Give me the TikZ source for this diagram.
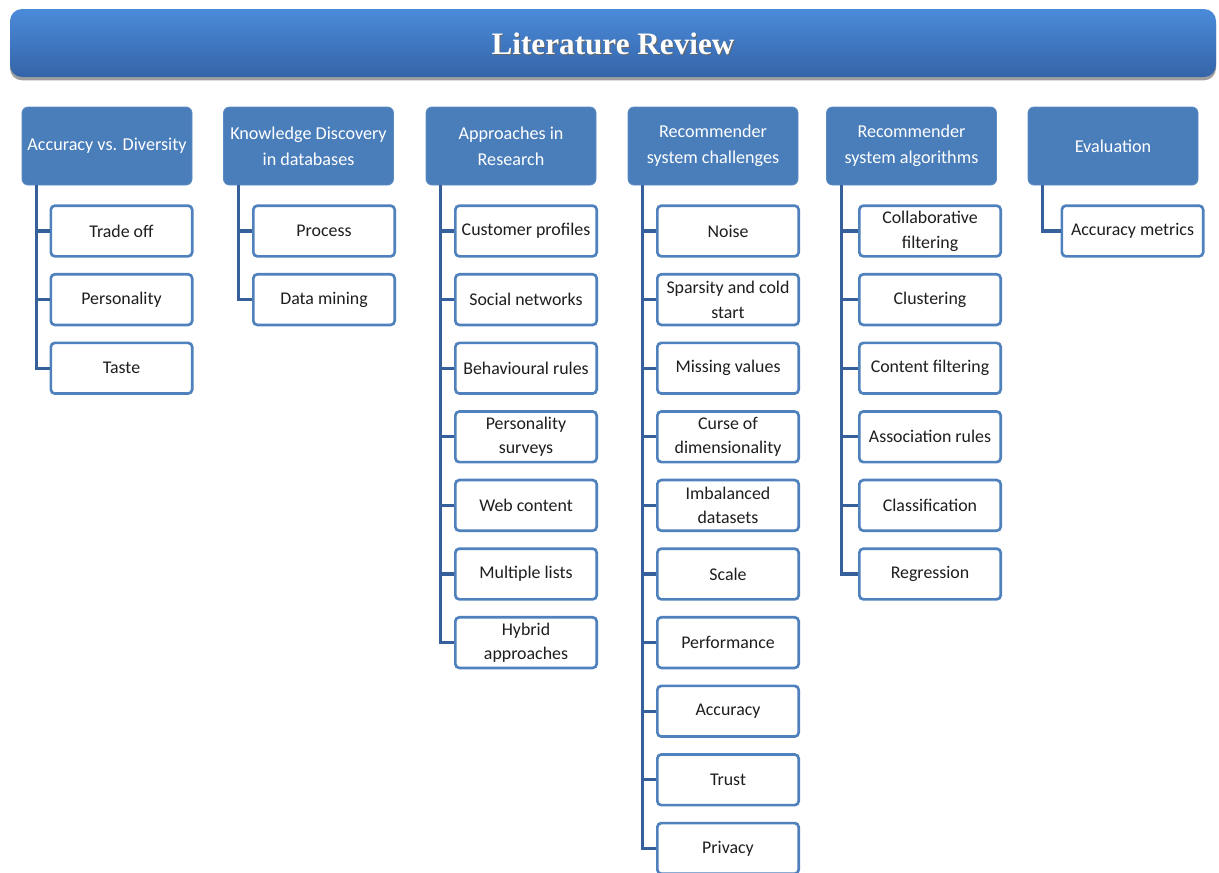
\documentclass[tikz,border=0pt]{standalone}
\usepackage{fontspec}
\setmainfont{Carlito}
\newfontfamily\titlefont{Liberation Serif}
\usetikzlibrary{calc,shadows}
\definecolor{barTop}{HTML}{4B8BDA}
\definecolor{barBot}{HTML}{3464A8}
\definecolor{headFill}{HTML}{4A7EBB}
\definecolor{leafLine}{HTML}{4F81BD}
\definecolor{linkLine}{HTML}{35609C}
\definecolor{leafText}{HTML}{1E1E1E}
\tikzset{
  head/.style={rectangle, rounded corners=4.5pt, fill=headFill, draw=headFill!90!white,
    line width=0.6pt, minimum width=127.5pt, minimum height=58.5pt, inner sep=2pt,
    align=center, text=white, font=\fontsize{13.6}{19.5}\selectfont},
  leaf/.style={rectangle, rounded corners=3pt, fill=white, draw=leafLine,
    line width=2pt, minimum width=106pt, minimum height=38pt, inner sep=1pt,
    align=center, text=leafText, font=\fontsize{13.4}{18.5}\selectfont},
  link/.style={draw=linkLine, line width=2.3pt},
}
\begin{document}
\begin{tikzpicture}[x=0.75pt,y=-0.75pt]
\useasboundingbox (0,0) rectangle (1219,872);
\clip (0,0) rectangle (1219,872);

% title banner
\shade[top color=barTop, bottom color=barBot, rounded corners=9pt,
  drop shadow={shadow xshift=0pt, shadow yshift=-2.5pt, opacity=0.5, fill=black!75}]
  (10,9) rectangle (1216,77);
\node (title) at (614,45) {\titlefont\fontsize{23.4}{26}\selectfont\bfseries\color{black!60}Literature Review};
\node (titletext) at (613,44) {\titlefont\fontsize{23.4}{26}\selectfont\bfseries\color{white}Literature Review};

% column headers
\node[head] (h1) at (107,146)  {Accuracy vs. Diversity};
\node[head] (h2) at (308.5,146) {Knowledge Discovery\\in databases};
\node[head] (h3) at (511,146)  {Approaches in\\Research};
\node[head] (h4) at (713,146)  {Recommender\\system challenges};
\node[head] (h5) at (911.5,146) {Recommender\\system algorithms};
\node[head] (h6) at (1113,146) {Evaluation};

% Accuracy vs. Diversity
\node[leaf] (a1) at (121.5,231)   {Trade off};
\node[leaf] (a2) at (121.5,299.6) {Personality};
\node[leaf] (a3) at (121.5,368.2) {Taste};

% Knowledge Discovery
\node[leaf] (b1) at (324,231)   {Process};
\node[leaf] (b2) at (324,299.6) {Data mining};

% Approaches in Research
\node[leaf] (r1) at (526,231)   {Customer profiles};
\node[leaf] (r2) at (526,299.6) {Social networks};
\node[leaf] (r3) at (526,368.2) {Behavioural rules};
\node[leaf] (r4) at (526,436.8) {Personality\\surveys};
\node[leaf] (r5) at (526,505.4) {Web content};
\node[leaf] (r6) at (526,574)   {Multiple lists};
\node[leaf] (r7) at (526,642.6) {Hybrid\\approaches};

% Recommender system challenges
\node[leaf] (s1)  at (728,231)   {Noise};
\node[leaf] (s2)  at (728,299.6) {Sparsity and cold\\start};
\node[leaf] (s3)  at (728,368.2) {Missing values};
\node[leaf] (s4)  at (728,436.8) {Curse of\\dimensionality};
\node[leaf] (s5)  at (728,505.4) {Imbalanced\\datasets};
\node[leaf] (s6)  at (728,574)   {Scale};
\node[leaf] (s7)  at (728,642.6) {Performance};
\node[leaf] (s8)  at (728,711.2) {Accuracy};
\node[leaf] (s9)  at (728,779.8) {Trust};
\node[leaf] (s10) at (728,848.4) {Privacy};

% Recommender system algorithms
\node[leaf] (g1) at (930,231)   {Collaborative\\filtering};
\node[leaf] (g2) at (930,299.6) {Clustering};
\node[leaf] (g3) at (930,368.2) {Content filtering};
\node[leaf] (g4) at (930,436.8) {Association rules};
\node[leaf] (g5) at (930,505.4) {Classification};
\node[leaf] (g6) at (930,574)   {Regression};

% Evaluation
\node[leaf] (e1) at (1132.5,231) {Accuracy metrics};

% elbow connectors from each header to its items
\foreach \h/\list in {h1/{a1,a2,a3}, h2/{b1,b2}, h3/{r1,r2,r3,r4,r5,r6,r7},
    h4/{s1,s2,s3,s4,s5,s6,s7,s8,s9,s10}, h5/{g1,g2,g3,g4,g5,g6}, h6/{e1}}{
  \foreach \c in \list {
    \draw[link] ($(\h.south west)+(15,0)$) |- (\c.west);
  }
}
\end{tikzpicture}
\end{document}
